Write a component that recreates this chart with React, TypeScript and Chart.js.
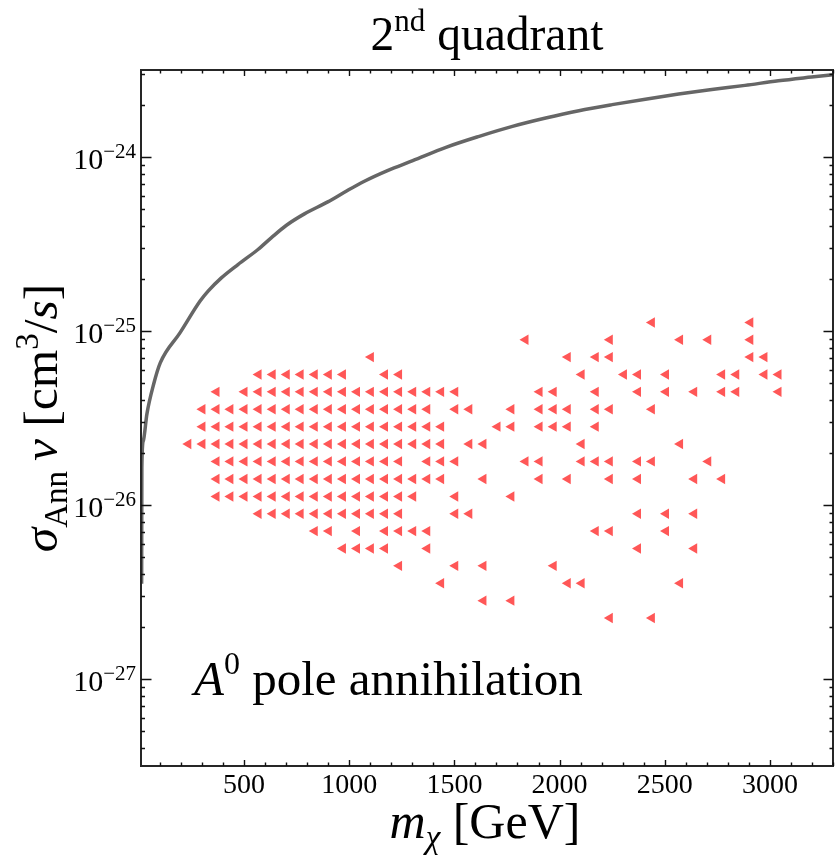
import React, { useEffect, useRef } from "react";
import { Chart, registerables } from "chart.js";

Chart.register(...registerables);

const W = 839;
const H = 856;
const FONT = '"Liberation Serif", "Times New Roman", serif';

// ---- axes ----
const xMin = 10;
const xMax = 3300;
const yMin = 3.162e-28;
const yMax = 3.162e-24;
const xMajorTicks = [500, 1000, 1500, 2000, 2500, 3000];
const xTickLabels = ["500", "1000", "1500", "2000", "2500", "3000"];
const yMajorTicks = [1e-27, 1e-26, 1e-25, 1e-24];
const yTickExponents = ["\u221227", "\u221226", "\u221225", "\u221224"];

// ---- scatter points: one sigma level per row, masses (GeV) at that level ----
const sigmaLevels = [
  1.12e-25, 8.91e-26, 7.08e-26, 5.62e-26, 4.47e-26, 3.55e-26, 2.82e-26, 2.24e-26, 1.78e-26,
  1.41e-26, 1.12e-26, 8.91e-27, 7.08e-27, 5.62e-27, 4.47e-27, 3.55e-27, 2.82e-27, 2.24e-27,
];
const massesAtLevel: number[][] = [
  [2439, 2907],
  [1838, 2239, 2573, 2707, 2907],
  [1103, 2039, 2172, 2239, 2907, 2974],
  [569, 636, 703, 769, 836, 903, 970, 1170, 1237, 2105, 2306, 2373, 2506, 2773, 2840, 2974, 3041],
  [369, 502, 569, 636, 703, 769, 836, 903, 970, 1037, 1103, 1170, 1237, 1304, 1371, 1437, 1504,
    1905, 1972, 2172, 2373, 2506, 2640, 2773, 2840, 3041],
  [302, 369, 435, 502, 569, 636, 703, 769, 836, 903, 970, 1037, 1103, 1170, 1237, 1304, 1371,
    1504, 1571, 1771, 1905, 1972, 2039, 2172, 2239, 2439],
  [302, 369, 435, 502, 569, 636, 703, 769, 836, 903, 970, 1037, 1103, 1170, 1237, 1304, 1371, 1437,
    1705, 1771, 1905, 1972, 2039, 2172],
  [235, 302, 369, 435, 502, 569, 636, 703, 769, 836, 903, 970, 1037, 1103, 1170, 1237, 1304, 1371, 1437,
    1571, 1638, 2105, 2573],
  [369, 435, 502, 569, 636, 703, 769, 836, 903, 970, 1037, 1103, 1170, 1237,
    1371, 1437, 1504, 1838, 1905, 2105, 2172, 2239, 2373, 2439, 2707],
  [369, 435, 502, 569, 636, 703, 769, 836, 903, 970, 1037, 1103, 1170, 1237, 1304, 1371, 1437,
    1638, 1905, 2039, 2239, 2373, 2640, 2773],
  [369, 435, 502, 569, 636, 703, 769, 836, 903, 970, 1037, 1103, 1170, 1237, 1304, 1504, 1771],
  [569, 636, 703, 769, 836, 903, 970, 1037, 1103, 1170, 1237, 1504, 1571, 2373, 2506, 2640],
  [836, 903, 1037, 1170, 1237, 1304, 1371, 2172, 2239, 2506],
  [970, 1037, 1103, 1170, 1371, 2373, 2640],
  [1237, 1504, 1638, 1972],
  [1437, 2039, 2105, 2573],
  [1638, 1771],
  [2239, 2439],
];

// ---- limit curve ----
const curveMass = [
  13, 14, 21, 38, 70, 102, 196, 291, 329, 392, 471, 566, 629, 700, 787, 898, 977, 1072, 1182,
  1302, 1460, 1618, 1776, 1934, 2092, 2250, 2408, 2566, 2724, 2882, 3040, 3198, 3300,
];
const curveSigma = [
  3.53e-27, 1.64e-26, 2.34e-26, 3.33e-26, 4.94e-26, 6.58e-26, 9.78e-26, 1.486e-25, 1.695e-25,
  2.02e-25, 2.41e-25, 2.94e-25, 3.43e-25, 4.04e-25, 4.71e-25, 5.52e-25, 6.27e-25, 7.26e-25,
  8.36e-25, 9.53e-25, 1.137e-24, 1.315e-24, 1.5e-24, 1.675e-24, 1.846e-24, 2.0e-24, 2.15e-24,
  2.3e-24, 2.44e-24, 2.58e-24, 2.74e-24, 2.88e-24, 2.97e-24,
];

type Run = { t: string; size: number; italic?: boolean; dy?: number };

function fontOf(r: Run) {
  return `${r.italic ? "italic " : ""}${r.size}px ${FONT}`;
}

function runsWidth(ctx: CanvasRenderingContext2D, runs: Run[]) {
  let w = 0;
  for (const r of runs) {
    ctx.font = fontOf(r);
    w += ctx.measureText(r.t).width;
  }
  return w;
}

function drawRuns(
  ctx: CanvasRenderingContext2D,
  runs: Run[],
  x: number,
  y: number,
  align: "left" | "center" | "right"
) {
  const total = runsWidth(ctx, runs);
  let cx = align === "center" ? x - total / 2 : align === "right" ? x - total : x;
  ctx.textAlign = "left";
  ctx.textBaseline = "alphabetic";
  for (const r of runs) {
    ctx.font = fontOf(r);
    ctx.fillText(r.t, cx, y + (r.dy || 0));
    cx += ctx.measureText(r.t).width;
  }
}

const decorPlugin = {
  id: "decor",
  afterDraw(chart: any) {
    const ctx: CanvasRenderingContext2D = chart.ctx;
    const { left, right, top, bottom } = chart.chartArea;
    const xs = chart.scales.x;
    const ys = chart.scales.y;
    ctx.save();

    // frame
    ctx.strokeStyle = "#262626";
    ctx.lineWidth = 2;
    ctx.strokeRect(left, top, right - left, bottom - top);

    // ticks
    ctx.lineWidth = 1.4;
    ctx.strokeStyle = "#111";
    ctx.beginPath();
    for (let v = 100; v <= xMax; v += 100) {
      const px = Math.round(xs.getPixelForValue(v)) + 0.5;
      const major = v % 500 === 0;
      const len = major ? 6 : 3.5;
      ctx.moveTo(px, bottom);
      ctx.lineTo(px, bottom - len);
      ctx.moveTo(px, top);
      ctx.lineTo(px, top + len);
    }
    for (let e = -28; e <= -24; e++) {
      for (let m = 1; m <= 9; m++) {
        const v = m * Math.pow(10, e);
        if (v < yMin || v > yMax) continue;
        const py = Math.round(ys.getPixelForValue(v)) + 0.5;
        const major = m === 1;
        ctx.moveTo(left, py);
        ctx.lineTo(left + (major ? 10.5 : 4), py);
        ctx.moveTo(right, py);
        ctx.lineTo(right - (major ? 9.5 : 3.5), py);
      }
    }
    ctx.stroke();

    ctx.fillStyle = "#000";
    // x tick labels
    xMajorTicks.forEach((v, i) => {
      const px = xs.getPixelForValue(v);
      drawRuns(ctx, [{ t: xTickLabels[i], size: 28 }], px, 793, "center");
    });
    // y tick labels
    yMajorTicks.forEach((v, i) => {
      const py = ys.getPixelForValue(v);
      drawRuns(
        ctx,
        [
          { t: "10", size: 30 },
          { t: yTickExponents[i], size: 21, dy: -11 },
        ],
        136,
        py + 12,
        "right"
      );
    });

    // title
    const cxPlot = (left + right) / 2;
    drawRuns(
      ctx,
      [
        { t: "2", size: 47.5 },
        { t: "nd", size: 31, dy: -19 },
        { t: " quadrant", size: 47.5 },
      ],
      cxPlot,
      50,
      "center"
    );

    // x axis title
    drawRuns(
      ctx,
      [
        { t: "m", size: 50, italic: true },
        { t: "\u03c7", size: 33, italic: true, dy: 10 },
        { t: " [GeV]", size: 50 },
      ],
      cxPlot - 2,
      838,
      "center"
    );

    // y axis title (rotated)
    ctx.save();
    ctx.translate(57, (top + bottom) / 2);
    ctx.rotate(-Math.PI / 2);
    drawRuns(
      ctx,
      [
        { t: "\u03c3", size: 49.5, italic: true },
        { t: "Ann", size: 33, dy: 10 },
        { t: "\u2009", size: 49.5 },
        { t: "v", size: 49.5, italic: true },
        { t: " [cm", size: 49.5 },
        { t: "3", size: 33, dy: -19 },
        { t: "/", size: 49.5 },
        { t: "s", size: 49.5, italic: true },
        { t: "]", size: 49.5 },
      ],
      0,
      0,
      "center"
    );
    ctx.restore();

    // annotation
    drawRuns(
      ctx,
      [
        { t: "A", size: 49, italic: true },
        { t: "0", size: 32, dy: -21 },
        { t: " pole annihilation", size: 49 },
      ],
      194,
      695,
      "left"
    );

    ctx.restore();
  },
};

export default function App() {
  const ref = useRef<HTMLCanvasElement | null>(null);

  useEffect(() => {
    if (!ref.current) return;
    const pts: { x: number; y: number }[] = [];
    sigmaLevels.forEach((s, i) => {
      massesAtLevel[i].forEach((m) => pts.push({ x: m, y: s }));
    });
    const curve = curveMass.map((m, i) => ({ x: m, y: curveSigma[i] }));

    const chart = new Chart(ref.current, {
      type: "scatter",
      data: {
        datasets: [
          {
            data: pts,
            pointStyle: "triangle",
            rotation: -90,
            pointRadius: 6,
            pointBorderWidth: 0,
            backgroundColor: "#ff5757",
            borderColor: "#ff5757",
          } as any,
          {
            data: curve,
            showLine: true,
            borderColor: "#666666",
            borderWidth: 3.5,
            pointRadius: 0,
            cubicInterpolationMode: "monotone",
          } as any,
        ],
      },
      options: {
        responsive: false,
        animation: false,
        devicePixelRatio: 1,
        layout: { padding: { top: 70, right: 4, left: 0, bottom: 0 } },
        plugins: {
          legend: { display: false },
          tooltip: { enabled: false },
          title: { display: false },
        },
        scales: {
          x: {
            type: "linear",
            min: xMin,
            max: xMax,
            grid: { display: false },
            border: { display: false },
            ticks: { display: false },
            afterBuildTicks: (s: any) => {
              s.ticks = xMajorTicks.map((v) => ({ value: v }));
            },
            afterFit: (s: any) => {
              s.height = 90;
            },
          },
          y: {
            type: "logarithmic",
            min: yMin,
            max: yMax,
            grid: { display: false },
            border: { display: false },
            ticks: { display: false },
            afterBuildTicks: (s: any) => {
              s.ticks = yMajorTicks.map((v) => ({ value: v }));
            },
            afterFit: (s: any) => {
              s.width = 141;
            },
          },
        },
      } as any,
      plugins: [decorPlugin],
    });
    return () => chart.destroy();
  }, []);

  return (
    <div style={{ position: "fixed", left: 0, top: 0, width: W, height: H, background: "#fff" }}>
      <canvas ref={ref} width={W} height={H} style={{ display: "block", width: W, height: H }} />
    </div>
  );
}
